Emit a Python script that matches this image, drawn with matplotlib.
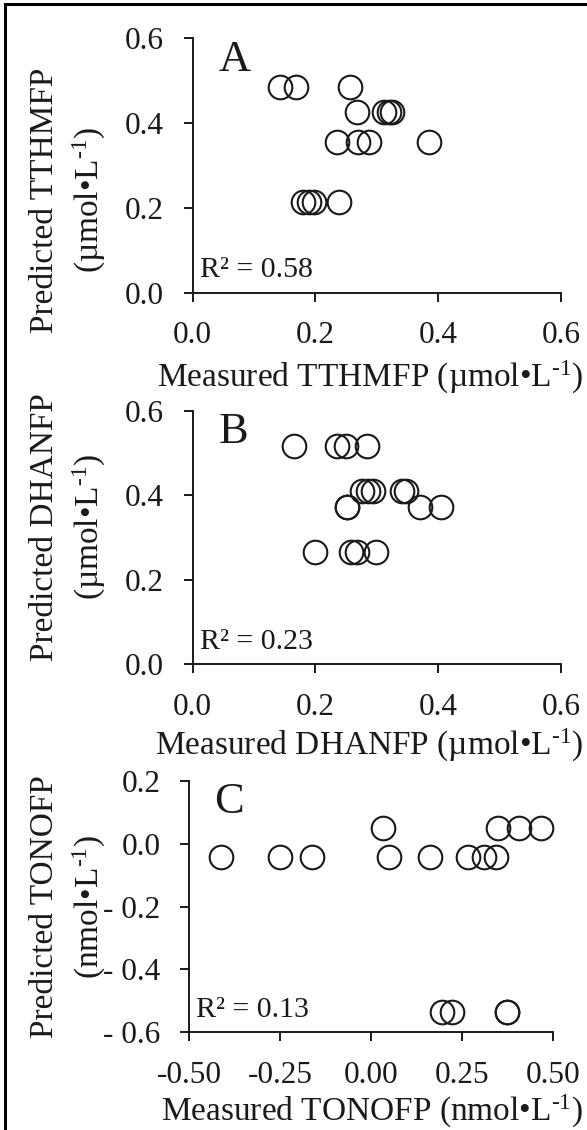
import matplotlib
matplotlib.use("Agg")
import matplotlib.pyplot as plt
from matplotlib.lines import Line2D

plt.rcParams['font.family'] = ['Liberation Serif', 'DejaVu Serif']
plt.rcParams['mathtext.fontset'] = 'custom'
plt.rcParams['mathtext.rm'] = 'Liberation Serif'
plt.rcParams['mathtext.it'] = 'Liberation Serif:italic'
plt.rcParams['mathtext.bf'] = 'Liberation Serif:bold'

# ---------------- data ----------------
# Panel A: TTHMFP (µmol/L)
a_measured = [0.142, 0.168, 0.256,
              0.267, 0.312, 0.319, 0.325,
              0.235, 0.269, 0.288, 0.385,
              0.180, 0.189, 0.198, 0.238]
a_predicted = [0.486, 0.486, 0.486,
               0.427, 0.427, 0.427, 0.427,
               0.355, 0.355, 0.355, 0.355,
               0.213, 0.213, 0.213, 0.213]
# Panel B: DHANFP (µmol/L)
b_measured = [0.165, 0.235, 0.249, 0.284,
              0.276, 0.285, 0.293, 0.341, 0.347,
              0.251, 0.252, 0.370, 0.405,
              0.199, 0.258, 0.267, 0.299]
b_predicted = [0.518, 0.518, 0.518, 0.518,
               0.411, 0.411, 0.411, 0.411, 0.411,
               0.372, 0.372, 0.372, 0.372,
               0.267, 0.267, 0.267, 0.267]
# Panel C: TONOFP (nmol/L)
c_measured = [0.034, 0.349, 0.406, 0.467,
              -0.412, -0.250, -0.161, 0.051, 0.163, 0.268, 0.312, 0.344,
              0.195, 0.222, 0.373, 0.374]
c_predicted = [0.049, 0.049, 0.049, 0.049,
               -0.041, -0.041, -0.041, -0.041, -0.041, -0.041, -0.041, -0.041,
               -0.534, -0.534, -0.534, -0.534]

r2_values = ["0.58", "0.23", "0.13"]
panel_letters = ["A", "B", "C"]

ab_ticks = [0.0, 0.2, 0.4, 0.6]
ab_ticklabels = ["0.0", "0.2", "0.4", "0.6"]
c_xticks = [-0.50, -0.25, 0.00, 0.25, 0.50]
c_xticklabels = ["-0.50", "-0.25", "0.00", "0.25", "0.50"]
c_yticks = [0.2, 0.0, -0.2, -0.4, -0.6]
c_yticklabels = ["0.2", "0.0", "- 0.2", "- 0.4", "- 0.6"]

SUP = "$^{\\text{-1}}$"
xlabels = ["Measured TTHMFP (\u00b5mol\u2022L" + SUP + ")",
           "Measured DHANFP (\u00b5mol\u2022L" + SUP + ")",
           "Measured TONOFP (nmol\u2022L" + SUP + ")"]
ylabels1 = ["Predicted TTHMFP", "Predicted DHANFP", "Predicted TONOFP"]
ylabels2 = ["(\u00b5mol\u2022L" + SUP + ")", "(\u00b5mol\u2022L" + SUP + ")",
            "(nmol\u2022L" + SUP + ")"]

# check mathtext \text support, otherwise fall back to unicode superscript
try:
    from matplotlib.mathtext import MathTextParser
    MathTextParser("path").parse(SUP, 72)
except Exception:
    xlabels = [s.replace(SUP, "\u207b\u00b9") for s in xlabels]
    ylabels2 = [s.replace(SUP, "\u207b\u00b9") for s in ylabels2]

# ---------------- figure ----------------
W, H = 587, 1130
fig = plt.figure(figsize=(W / 100, H / 100), dpi=100)

def fx(px):
    return px / W

def fy(py):
    return 1 - py / H

# axes boxes in pixel coords: left, right, top, bottom
boxes = [(192.7, 561.0, 38.3, 292.7),
         (192.7, 561.0, 411.0, 664.3),
         (189.0, 552.7, 781.0, 1032.3)]

datasets = [(a_measured, a_predicted), (b_measured, b_predicted), (c_measured, c_predicted)]

tick_fs = 22.5
label_fs = 24
ink = '#1a1a1a'

xlabel_baselines = [387.0, 755.0, 1121.0]
ylabel_centers = [200, 527, 907]

for i, (l, r, t, b) in enumerate(boxes):
    ax = fig.add_axes([fx(l), fy(b), fx(r) - fx(l), fy(t) - fy(b)])
    xs, ys = datasets[i]
    ax.plot(xs, ys, linestyle='none', marker='o', markersize=17,
            markerfacecolor='none', markeredgecolor=ink, markeredgewidth=1.5,
            clip_on=False)
    if i < 2:
        ax.set_xlim(0, 0.6)
        ax.set_ylim(0, 0.6)
        ax.set_xticks(ab_ticks)
        ax.set_xticklabels(ab_ticklabels)
        ax.set_yticks(ab_ticks)
        ax.set_yticklabels(ab_ticklabels)
    else:
        ax.set_xlim(-0.5, 0.5)
        ax.set_ylim(-0.6, 0.2)
        ax.set_xticks(c_xticks)
        ax.set_xticklabels(c_xticklabels)
        ax.set_yticks(c_yticks)
        ax.set_yticklabels(c_yticklabels)
    for s in ['top', 'right']:
        ax.spines[s].set_visible(False)
    for s in ['left', 'bottom']:
        ax.spines[s].set_linewidth(1.4)
        ax.spines[s].set_color(ink)
    ax.tick_params(direction='out', length=6.5, width=1.4, color=ink,
                   labelsize=tick_fs, labelcolor=ink)
    ax.tick_params(axis='x', pad=14)
    ax.tick_params(axis='y', pad=14)
    ax.set_facecolor('none')
    # panel letter
    ax.text(0.07, 0.995, panel_letters[i], transform=ax.transAxes,
            fontsize=32, ha='left', va='top', color=ink)
    # R2 text
    ax.text(0.02, 0.09, "R\u00b2 = " + r2_values[i], transform=ax.transAxes,
            fontsize=21.5, ha='left', va='center', color=ink)
    # x label
    fig.text(fx(583), fy(xlabel_baselines[i]), xlabels[i], fontsize=label_fs,
             ha='right', va='baseline', color=ink)
    # y label (two lines)
    fig.text(fx(45), fy(ylabel_centers[i]), ylabels1[i], fontsize=label_fs,
             rotation=90, ha='center', va='center', color=ink)
    fig.text(fx(89), fy(ylabel_centers[i]), ylabels2[i], fontsize=label_fs,
             rotation=90, ha='center', va='center', color=ink)

# border frame (left and top edges)
fig.add_artist(Line2D([fx(5), fx(587)], [fy(4), fy(4)], color='black', linewidth=2.2,
                      transform=fig.transFigure))
fig.add_artist(Line2D([fx(5), fx(5)], [fy(4), fy(1130)], color='black', linewidth=2.2,
                      transform=fig.transFigure))

fig.savefig("out.png", dpi=100)
